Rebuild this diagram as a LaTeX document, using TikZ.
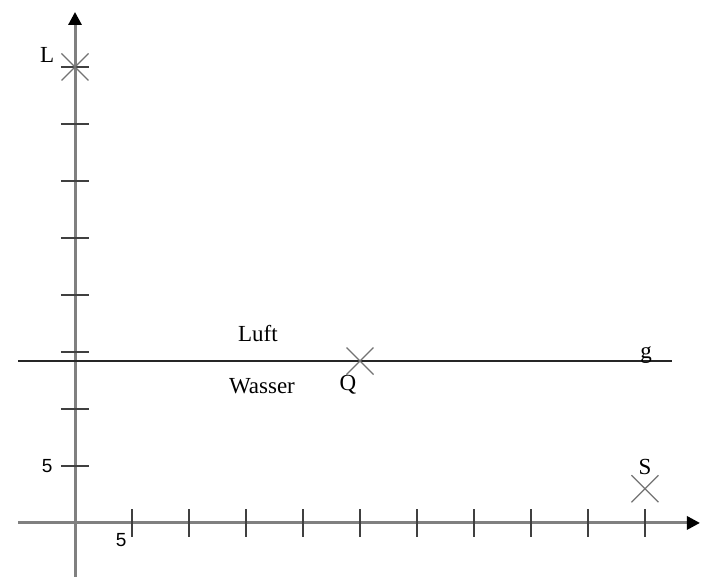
\documentclass[tikz,border=0pt]{standalone}
\usepackage{fontspec}
\setmainfont{Liberation Serif}
\setsansfont{Liberation Sans}
\usetikzlibrary{arrows.meta,shapes.misc}
\tikzset{
  axis/.style={draw=black!50, line width=1.5pt, -{Triangle[length=6.5pt, width=6.5pt, black]}},
  axtick/.style={draw=black!75, line width=0.7pt},
  boundary/.style={draw=black!85, line width=0.7pt},
  cross/.style={draw=black!55, cross out, line width=0.6pt, minimum size=13.5pt, inner sep=0pt, outer sep=0pt},
  lbl/.style={font=\fontsize{11.5}{13}\selectfont, inner sep=0pt},
  num/.style={font=\sffamily\fontsize{9.5}{10}\selectfont, inner sep=0pt},
}

\begin{document}
\begin{tikzpicture}[x=28.5pt, y=28.5pt]
  \useasboundingbox[fill=white] (-1.316,-0.947) rectangle (11.053,9.175);
  % axes
  \coordinate (xstart) at (-1.0,0);
  \coordinate (xend) at (10.965,0);
  \coordinate (ystart) at (0,-0.947);
  \coordinate (yend) at (0,8.965);
  \draw[axis] (xstart) -- (xend);
  \draw[axis] (ystart) -- (yend);
  \foreach \k in {1,...,10}
    \draw[axtick] (\k,-0.24) -- (\k,0.25);
  \foreach \k in {1,...,8}
    \draw[axtick] (-0.25,\k) -- (0.25,\k);
  \node[num] (xfive) at (0.81,-0.30) {5};
  \node[num] (yfive) at (-0.49,1.0) {5};
  % boundary line g
  \coordinate (gstart) at (-1.0,2.84);
  \coordinate (gend) at (10.47,2.84);
  \draw[boundary] (gstart) -- (gend);
  \node[lbl] (glabel) at (10.02,2.95) {g};
  \node[lbl] (luft) at (3.21,3.33) {Luft};
  \node[lbl] (wasser) at (3.28,2.40) {Wasser};
  % points
  \node[cross] (L) at (0,8) {};
  \node[lbl] (Llabel) at (-0.49,8.21) {L};
  \node[cross] (Q) at (5,2.84) {};
  \node[lbl] (Qlabel) at (4.79,2.42) {Q};
  \node[cross] (S) at (10,0.6) {};
  \node[lbl] (Slabel) at (10,0.98) {S};
\end{tikzpicture}
\end{document}
